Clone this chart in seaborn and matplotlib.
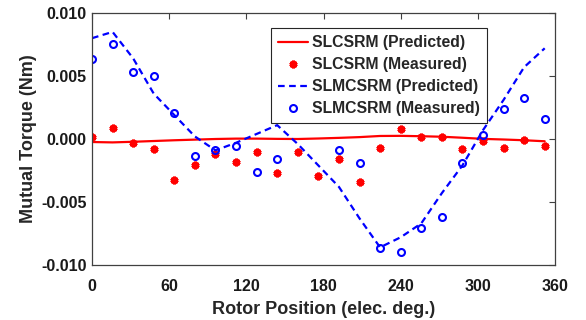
import numpy as np
import pandas as pd
import matplotlib
matplotlib.use("Agg")
import matplotlib.pyplot as plt
import seaborn as sns
from matplotlib.ticker import FormatStrFormatter

sns.set_style("white")
plt.rcParams['font.family'] = ['Liberation Sans', 'DejaVu Sans']
plt.rcParams['font.weight'] = 'bold'

rotor_deg = [0, 16, 32, 48, 64, 80, 96, 112, 128, 144, 160, 176, 192, 208,
             224, 240, 256, 272, 288, 304, 320, 336, 352]

slcsrm_pred = [-0.00024, -0.00027, -0.00022, -0.00016, -0.00010, -0.00005, 0.00000,
               0.00003, 0.00003, 0.00001, 0.00000, 0.00004, 0.00009, 0.00015,
               0.00024, 0.00025, 0.00022, 0.00018, 0.00010, 0.00001, -0.00004,
               -0.00010, -0.00018]
slcsrm_meas = [0.00013, 0.00087, -0.00034, -0.00082, -0.00325, -0.00206, -0.00122,
               -0.00185, -0.00100, -0.00272, -0.00100, -0.00291, -0.00156, -0.00341,
               -0.00069, 0.00077, 0.00018, 0.00018, -0.00079, -0.00016, -0.00069,
               -0.00008, -0.00056]
slmcsrm_pred = [0.0080, 0.0085, 0.0064, 0.0036, 0.0019, 0.0002, -0.0009, -0.0003,
                0.0004, 0.0011, -0.0004, -0.0021, -0.0038, -0.0063, -0.0086, -0.0078,
                -0.0067, -0.0043, -0.0021, 0.0007, 0.0031, 0.0057, 0.0072]
slmcsrm_meas = [0.00635, 0.00754, 0.00534, 0.0050, 0.00204, -0.00135, -0.00087,
                -0.00053, -0.00265, -0.00156, np.nan, np.nan, -0.00087, -0.00193,
                -0.00862, -0.0090, -0.00709, -0.00622, -0.00193, 0.00032, 0.0024,
                0.00328, 0.00156]

labels = ["SLCSRM (Predicted)", "SLCSRM (Measured)",
          "SLMCSRM (Predicted)", "SLMCSRM (Measured)"]
x_ticks = [0, 60, 120, 180, 240, 300, 360]
y_ticks = [-0.010, -0.005, 0.000, 0.005, 0.010]

df = pd.DataFrame({"deg": rotor_deg, "p1": slcsrm_pred, "m1": slcsrm_meas,
                   "p2": slmcsrm_pred, "m2": slmcsrm_meas})

fig = plt.figure(figsize=(5.86, 3.2), dpi=100)
ax = fig.add_axes([92/586, 1-265/320, 463/586, 252/320])

RED = "#ff0000"
BLUE = "#0000ff"

sns.lineplot(data=df, x="deg", y="p1", ax=ax, color=RED, lw=1.6, label=labels[0])
sns.lineplot(data=df, x="deg", y="m1", ax=ax, color=RED, linestyle="none",
             marker=(6, 2, 0), ms=5.5, mec=RED, mew=2.2, label=labels[1])
sns.lineplot(data=df, x="deg", y="p2", ax=ax, color=BLUE, lw=1.6,
             dashes=(3, 2), label=labels[2])
sns.lineplot(data=df.dropna(), x="deg", y="m2", ax=ax, color=BLUE, linestyle="none",
             marker="o", ms=5, mfc="none", mec=BLUE, mew=1.5, label=labels[3])

ax.set_xlim(0, 360)
ax.set_ylim(-0.010, 0.010)
ax.set_xticks(x_ticks)
ax.set_yticks(y_ticks)
ax.yaxis.set_major_formatter(FormatStrFormatter("%.3f"))
axc = "#404040"
for s in ax.spines.values():
    s.set_color(axc)
    s.set_linewidth(0.9)
ax.tick_params(direction="in", length=4, width=0.8, color=axc, top=True, right=True,
               labelsize=11.5, labelcolor="#1a1a1a")
ax.tick_params(axis="x", pad=10)
ax.tick_params(axis="y", pad=4)
for t in ax.get_xticklabels() + ax.get_yticklabels():
    t.set_fontweight("bold")
ax.set_xlabel("Rotor Position (elec. deg.)", fontsize=13, fontweight="bold", labelpad=5)
ax.set_ylabel("Mutual Torque (Nm)", fontsize=13, fontweight="bold", labelpad=3)

leg = ax.legend(loc="upper right", bbox_to_anchor=(0.853, 0.940), borderaxespad=0,
                fancybox=False, frameon=True, edgecolor="#262626", framealpha=1,
                prop={"weight": "bold", "size": 11.3}, handlelength=1.9,
                handletextpad=0.25, labelspacing=0.45, borderpad=0.45)
leg.get_frame().set_linewidth(0.8)

fig.savefig("out.png", dpi=100)
